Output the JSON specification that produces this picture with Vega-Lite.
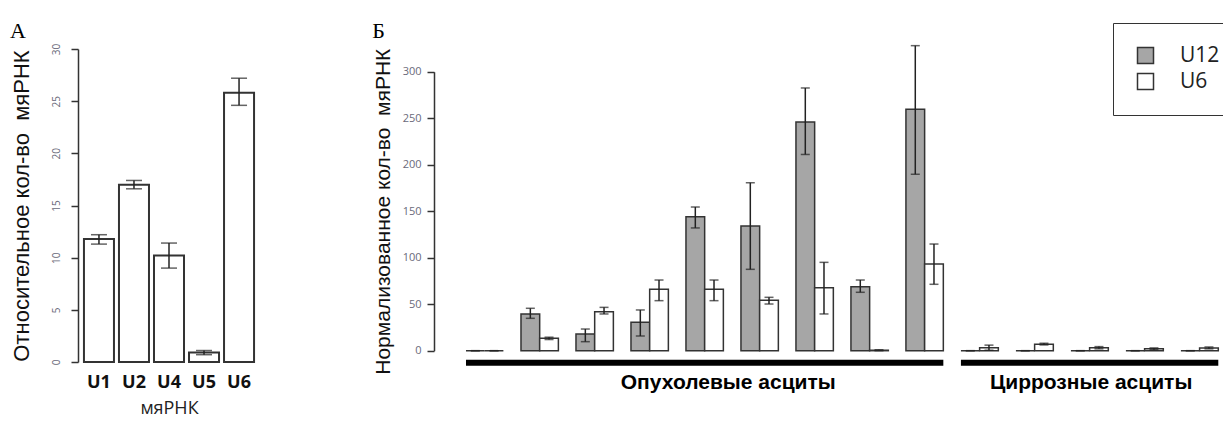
{
  "$schema": "https://vega.github.io/schema/vega-lite/v6.json",
  "padding": {"left": 10, "top": 19, "right": 0, "bottom": 6},
  "autosize": {"type": "pad"},
  "background": "white",
  "config": {"view": {"stroke": null}, "font": "Open Sans"},
  "spacing": 112,
  "resolve": {"scale": {"color": "shared"}, "legend": {"color": "shared"}},
  "hconcat": [
    {
      "width": 182,
      "height": 313,
      "title": {"text": "А", "anchor": "start", "frame": "bounds", "font": "Liberation Serif", "fontSize": 22, "fontWeight": "normal", "color": "#000", "offset": 0},
      "data": {"values": [
        {"rna": "U1", "value": 11.8, "lo": 11.3, "hi": 12.2},
        {"rna": "U2", "value": 17.0, "lo": 16.6, "hi": 17.4},
        {"rna": "U4", "value": 10.2, "lo": 9.0, "hi": 11.4},
        {"rna": "U5", "value": 0.9, "lo": 0.7, "hi": 1.1},
        {"rna": "U6", "value": 25.8, "lo": 24.6, "hi": 27.2}
      ]},
      "layer": [
        {
          "mark": {"type": "bar", "fill": "white", "stroke": "#333", "strokeWidth": 2},
          "encoding": {
            "x": {"field": "rna", "type": "nominal", "sort": null, "title": "мяРНК",
              "scale": {"paddingInner": 0.143, "paddingOuter": 0.17},
              "axis": {"domain": false, "ticks": false, "labelAngle": 0, "labelFont": "Open Sans", "labelFontSize": 18, "labelFontWeight": "bold", "labelColor": "#111", "labelPadding": 11, "titleFont": "Open Sans", "titleFontSize": 18, "titleFontWeight": "normal", "titleColor": "#222", "titlePadding": 8}},
            "y": {"field": "value", "type": "quantitative", "title": "Относительное кол-во\u00a0 мяРНК",
              "scale": {"domain": [0, 30], "nice": false},
              "axis": {"values": [0, 5, 10, 15, 20, 25, 30], "grid": false, "labelAngle": -90, "labelBaseline": "middle", "labelAlign": "center", "labelFontSize": 10, "labelColor": "#6a6a7a", "tickSize": 7, "tickColor": "#333", "tickWidth": 1.5, "domainColor": "#333", "domainWidth": 1.5, "labelPadding": 15, "titleFont": "Liberation Sans", "titleFontSize": 22, "titleFontWeight": "normal", "titleColor": "#111", "titlePadding": 18}}
          }
        },
        {
          "mark": {"type": "rule", "stroke": "#222", "strokeWidth": 1.5},
          "encoding": {
            "x": {"field": "rna", "type": "nominal", "sort": null, "title": "мяРНК"},
            "y": {"field": "lo", "type": "quantitative", "title": "Относительное кол-во\u00a0 мяРНК"},
            "y2": {"field": "hi"}
          }
        },
        {
          "mark": {"type": "tick", "orient": "horizontal", "size": 16, "thickness": 1.5, "color": "#222"},
          "encoding": {
            "x": {"field": "rna", "type": "nominal", "sort": null, "title": "мяРНК"},
            "y": {"field": "lo", "type": "quantitative", "title": "Относительное кол-во\u00a0 мяРНК"}
          }
        },
        {
          "mark": {"type": "tick", "orient": "horizontal", "size": 16, "thickness": 1.5, "color": "#222"},
          "encoding": {
            "x": {"field": "rna", "type": "nominal", "sort": null, "title": "мяРНК"},
            "y": {"field": "hi", "type": "quantitative", "title": "Относительное кол-во\u00a0 мяРНК"}
          }
        }
      ]
    },
    {
      "width": 787,
      "height": 313,
      "title": {"text": "Б", "anchor": "start", "frame": "bounds", "font": "Liberation Serif", "fontSize": 22, "fontWeight": "normal", "color": "#000", "offset": 2},
      "data": {"values": [
        {"group": "T1", "series": "U12", "value": 0, "lo": 0, "hi": 0},
        {"group": "T1", "series": "U6", "value": 0, "lo": 0, "hi": 0},
        {"group": "T2", "series": "U12", "value": 39.5, "lo": 34.8, "hi": 45.6},
        {"group": "T2", "series": "U6", "value": 13.3, "lo": 12, "hi": 14.5},
        {"group": "T3", "series": "U12", "value": 18, "lo": 9.7, "hi": 23.3},
        {"group": "T3", "series": "U6", "value": 42, "lo": 39.5, "hi": 46.6},
        {"group": "T4", "series": "U12", "value": 30.5, "lo": 15.8, "hi": 43.8},
        {"group": "T4", "series": "U6", "value": 66, "lo": 53.8, "hi": 76},
        {"group": "T5", "series": "U12", "value": 144, "lo": 132, "hi": 154.5},
        {"group": "T5", "series": "U6", "value": 66, "lo": 53.8, "hi": 76},
        {"group": "T6", "series": "U12", "value": 134, "lo": 87.5, "hi": 180.6},
        {"group": "T6", "series": "U6", "value": 54.2, "lo": 50.2, "hi": 57.4},
        {"group": "T7", "series": "U12", "value": 246, "lo": 211, "hi": 282.5},
        {"group": "T7", "series": "U6", "value": 67.8, "lo": 39.5, "hi": 95},
        {"group": "T8", "series": "U12", "value": 68.8, "lo": 62.8, "hi": 76},
        {"group": "T8", "series": "U6", "value": 0.5, "lo": 0, "hi": 1},
        {"group": "T9", "series": "U12", "value": 259.6, "lo": 189.7, "hi": 328},
        {"group": "T9", "series": "U6", "value": 93.2, "lo": 71.4, "hi": 114.7},
        {"group": "C1", "series": "U12", "value": 0, "lo": 0, "hi": 0},
        {"group": "C1", "series": "U6", "value": 3.2, "lo": 0.5, "hi": 6},
        {"group": "C2", "series": "U12", "value": 0, "lo": 0, "hi": 0},
        {"group": "C2", "series": "U6", "value": 7, "lo": 6.2, "hi": 8},
        {"group": "C3", "series": "U12", "value": 0, "lo": 0, "hi": 0},
        {"group": "C3", "series": "U6", "value": 3.2, "lo": 2, "hi": 4.4},
        {"group": "C4", "series": "U12", "value": 0, "lo": 0, "hi": 0},
        {"group": "C4", "series": "U6", "value": 2, "lo": 1, "hi": 3},
        {"group": "C5", "series": "U12", "value": 0, "lo": 0, "hi": 0},
        {"group": "C5", "series": "U6", "value": 3, "lo": 2, "hi": 4}
      ]},
      "layer": [
        {
          "mark": {"type": "bar", "stroke": "#333", "strokeWidth": 1.5},
          "encoding": {
            "x": {"field": "group", "type": "nominal",
              "scale": {"domain": ["T1","T2","T3","T4","T5","T6","T7","T8","T9","C1","C2","C3","C4","C5"], "paddingInner": 0.32, "paddingOuter": 0.3155, "align": 0.922},
              "axis": null},
            "xOffset": {"field": "series", "type": "nominal", "scale": {"domain": ["U12", "U6"], "paddingInner": 0, "paddingOuter": 0}},
            "y": {"field": "value", "type": "quantitative", "title": "Нормализованное кол-во\u00a0 мяРНК",
              "scale": {"domain": [0, 300], "nice": false, "range": [301.7, 22.7]},
              "axis": {"values": [0, 50, 100, 150, 200, 250, 300], "grid": false, "labelFontSize": 11, "labelColor": "#6a6a7a", "tickSize": 7, "tickColor": "#333", "tickWidth": 1.5, "domainColor": "#333", "domainWidth": 1.5, "labelPadding": 6, "titleFont": "Liberation Sans", "titleFontSize": 21, "titleFontWeight": "normal", "titleColor": "#111", "titlePadding": 9}},
            "color": {"field": "series", "type": "nominal",
              "scale": {"domain": ["U12", "U6"], "range": ["#a6a6a6", "#ffffff"]},
              "legend": {"title": null, "orient": "none", "legendX": 1035, "legendY": -26, "strokeColor": "#333", "padding": 22, "symbolType": "square", "symbolSize": 256, "symbolStrokeColor": "#333", "symbolStrokeWidth": 1.5, "labelFont": "Open Sans", "labelFontSize": 21, "labelColor": "#222", "rowPadding": 3, "labelOffset": 24}}
          }
        },
        {
          "mark": {"type": "rule", "stroke": "#222", "strokeWidth": 1.5},
          "encoding": {
            "x": {"field": "group", "type": "nominal"},
            "xOffset": {"field": "series", "type": "nominal"},
            "y": {"field": "lo", "type": "quantitative", "title": "Нормализованное кол-во\u00a0 мяРНК"},
            "y2": {"field": "hi"}
          }
        },
        {
          "mark": {"type": "tick", "orient": "horizontal", "size": 9, "thickness": 1.5, "color": "#222"},
          "encoding": {
            "x": {"field": "group", "type": "nominal"},
            "xOffset": {"field": "series", "type": "nominal"},
            "y": {"field": "lo", "type": "quantitative", "title": "Нормализованное кол-во\u00a0 мяРНК"}
          }
        },
        {
          "mark": {"type": "tick", "orient": "horizontal", "size": 9, "thickness": 1.5, "color": "#222"},
          "encoding": {
            "x": {"field": "group", "type": "nominal"},
            "xOffset": {"field": "series", "type": "nominal"},
            "y": {"field": "hi", "type": "quantitative", "title": "Нормализованное кол-во\u00a0 мяРНК"}
          }
        },
        {
          "data": {"values": [
            {"label": "Опухолевые асциты", "from": "T1", "to": "T9"},
            {"label": "Циррозные асциты", "from": "C1", "to": "C5"}
          ]},
          "mark": {"type": "rule", "strokeWidth": 6, "color": "#000"},
          "encoding": {
            "x": {"field": "from", "type": "nominal", "bandPosition": 0},
            "x2": {"field": "to", "bandPosition": 1},
            "y": {"datum": -13}
          }
        },
        {
          "data": {"values": [{"label": "Опухолевые асциты", "mid": "T5"}]},
          "mark": {"type": "text", "font": "Liberation Sans", "fontWeight": "bold", "fontSize": 21, "baseline": "middle", "color": "#000"},
          "encoding": {
            "x": {"field": "mid", "type": "nominal", "bandPosition": 1.13},
            "y": {"datum": -35},
            "text": {"field": "label"}
          }
        },
        {
          "data": {"values": [{"label": "Циррозные асциты", "mid": "C3"}]},
          "mark": {"type": "text", "font": "Liberation Sans", "fontWeight": "bold", "fontSize": 21, "baseline": "middle", "color": "#000"},
          "encoding": {
            "x": {"field": "mid", "type": "nominal", "bandPosition": 0.54},
            "y": {"datum": -35},
            "text": {"field": "label"}
          }
        }
      ]
    }
  ]
}
